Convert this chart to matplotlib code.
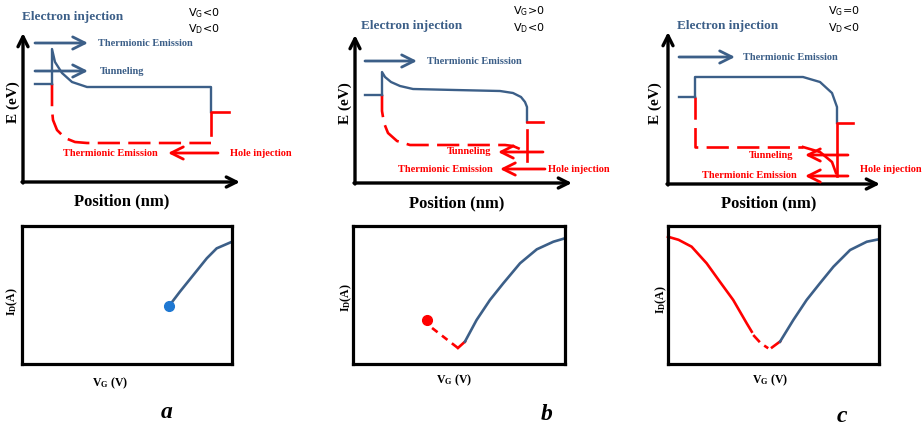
import numpy as np
import matplotlib.pyplot as plt

plt.rcParams['lines.scale_dashes'] = False
plt.rcParams['mathtext.default'] = 'regular'

W, H = 924, 428
BLUE = '#3c5f88'
RED = '#ff0000'
SERIF = 'Liberation Serif'

# band diagrams, local px units: position right of the E axis, energy above the position axis
# panel a : VG<0, VD<0
a_cb_x = [29, 29, 32, 39, 49, 64, 188, 188]
a_cb_y = [98, 133, 120, 109, 100, 95, 95, 70]
a_vb_x = [29, 29, 30, 34, 42, 52, 64, 188]
a_vb_y = [98, 72, 62, 52, 44, 40, 39, 39]
a_drain_x = [206, 188, 188]
a_drain_y = [70, 70, 47]
# panel b : VG>0, VD<0
b_cb_x = [27, 27, 30, 36, 45, 58, 100, 145, 158, 166, 170, 172, 172]
b_cb_y = [88, 111, 106, 101, 97, 94, 93, 92, 90, 86, 81, 76, 61]
b_vb_x = [27, 27, 29, 33, 42, 55, 150, 158, 165, 172]
b_vb_y = [88, 72, 60, 50, 42, 38, 38, 37, 34, 30]
b_drain_x = [188, 172]
b_drain_y = [61, 61]
b_drain2_x = [172, 172]
b_drain2_y = [53, 22]
# panel c : VG=0, VD<0
c_cb_x = [27, 27, 135, 152, 164, 169, 169]
c_cb_y = [87, 107, 107, 102, 91, 77, 61]
c_vb_x = [27, 27, 135]
c_vb_y = [87, 37, 37]
c_tail_x = [135, 152, 164, 168]
c_tail_y = [37, 32, 22, 11]
c_drain_x = [185, 169, 169]
c_drain_y = [61, 61, 8]

# transfer curves, VG and ID normalised to the box
a_blue_vg = [0.70, 0.752, 0.816, 0.880, 0.927, 1.0]
a_blue_id = [0.42, 0.524, 0.645, 0.766, 0.838, 0.886]
a_dot = (0.70, 0.42)

b_dot = (0.349, 0.319)
b_dash_vg = [0.373, 0.495]
b_dash_id = [0.261, 0.116]
b_red_vg = [0.495, 0.528]
b_red_id = [0.116, 0.162]
b_blue_vg = [0.528, 0.583, 0.646, 0.709, 0.788, 0.867, 0.945, 1.0]
b_blue_id = [0.162, 0.319, 0.464, 0.585, 0.730, 0.831, 0.886, 0.911]

c_red_vg = [0.0, 0.05, 0.112, 0.183, 0.246, 0.309, 0.373, 0.397]
c_red_id = [0.922, 0.90, 0.850, 0.730, 0.596, 0.464, 0.295, 0.234]
c_dash_vg = [0.404, 0.44, 0.475]
c_dash_id = [0.21, 0.15, 0.114]
c_red2_vg = [0.493, 0.531]
c_red2_id = [0.12, 0.163]
c_blue_vg = [0.531, 0.594, 0.657, 0.720, 0.784, 0.863, 0.942, 1.0]
c_blue_id = [0.162, 0.319, 0.464, 0.585, 0.705, 0.826, 0.886, 0.904]

fig = plt.figure(figsize=(W / 100, H / 100), dpi=100)


def band_ax(px0, px1, ox, oy):
    ax = fig.add_axes([px0 / W, 1 - 215 / H, (px1 - px0) / W, 215 / H])
    ax.set_xlim(px0 - ox, px1 - ox)
    ax.set_ylim(oy - 215, oy)
    ax.axis('off')
    return ax


def arrow(ax, tail, tip, color, lw=2, ms=22):
    ax.annotate('', xy=tip, xytext=tail,
                arrowprops=dict(arrowstyle='->', color=color, lw=lw,
                                mutation_scale=ms, shrinkA=0, shrinkB=0))


def txt(ax, x, y, s, color, size=7.5, ha='left', **kw):
    ax.text(x, y, s, color=color, fontsize=size, ha=ha, va='center',
            family=SERIF, weight='bold', **kw)


def frame(ax, xend, ytop):
    arrow(ax, (-1, 0), (xend, 0), 'black', lw=2.4, ms=18)
    arrow(ax, (0, -1), (0, ytop), 'black', lw=2.4, ms=18)


def vlabels(ax, x, y, g):
    ax.text(x, y[0], 'V$_G$' + g, fontsize=8, va='center', family='DejaVu Sans')
    ax.text(x, y[1], 'V$_D$<0', fontsize=8, va='center', family='DejaVu Sans')


# ---------------- panel a top
ax = band_ax(0, 305, 23, 182)
frame(ax, 217, 149)
txt(ax, -1, 165, 'Electron injection', BLUE, size=9.5)
vlabels(ax, 165, (169, 153), '<0')
arrow(ax, (12, 139), (65, 139), BLUE)
txt(ax, 75, 139, 'Thermionic Emission', BLUE)
arrow(ax, (12, 111), (65, 111), BLUE)
txt(ax, 77, 111, 'Tunneling', BLUE)
ax.plot([12, 29], [98, 98], color=BLUE, lw=1.7, clip_on=False)
ax.plot(a_vb_x, a_vb_y, color=RED, lw=1.9, dashes=(16, 6), clip_on=False)
ax.plot(a_cb_x, a_cb_y, color=BLUE, lw=1.7, clip_on=False)
ax.plot(a_drain_x, a_drain_y, color=RED, lw=1.9, clip_on=False)
arrow(ax, (195, 29), (145, 29), RED)
txt(ax, 87, 29, 'Thermionic Emission', RED, ha='center')
txt(ax, 207, 29, 'Hole injection', RED)
txt(ax, -10, 80, 'E (eV)', 'black', size=11, ha='center', rotation=90)
txt(ax, 99, -19, 'Position (nm)', 'black', size=12, ha='center')

# ---------------- panel b top
ax = band_ax(305, 640, 355, 183)
frame(ax, 217, 148)
txt(ax, 6, 157, 'Electron injection', BLUE, size=9.5)
vlabels(ax, 158, (172, 155), '>0')
arrow(ax, (10, 122), (62, 122), BLUE)
txt(ax, 72, 122, 'Thermionic Emission', BLUE)
ax.plot([10, 27], [88, 88], color=BLUE, lw=1.7, clip_on=False)
ax.plot(b_vb_x, b_vb_y, color=RED, lw=1.9, dashes=(16, 6), clip_on=False)
ax.plot(b_cb_x, b_cb_y, color=BLUE, lw=1.7, clip_on=False)
ax.plot(b_drain_x, b_drain_y, color=RED, lw=1.9, clip_on=False)
ax.plot(b_drain2_x, b_drain2_y, color=RED, lw=1.9, clip_on=False)
arrow(ax, (188, 31), (143, 31), RED)
txt(ax, 136, 31, 'Tunneling', RED, ha='right')
arrow(ax, (190, 14), (145, 14), RED)
txt(ax, 138, 14, 'Thermionic Emission', RED, ha='right')
txt(ax, 193, 14, 'Hole injection', RED)
txt(ax, -10, 80, 'E (eV)', 'black', size=11, ha='center', rotation=90)
txt(ax, 102, -20, 'Position (nm)', 'black', size=12, ha='center')

# ---------------- panel c top
ax = band_ax(640, 924, 668, 184)
frame(ax, 212, 152)
txt(ax, 9, 158, 'Electron injection', BLUE, size=9.5)
vlabels(ax, 160, (173, 156), '=0')
arrow(ax, (11, 127), (67, 127), BLUE)
txt(ax, 75, 127, 'Thermionic Emission', BLUE)
ax.plot([11, 27], [87, 87], color=BLUE, lw=1.7, clip_on=False)
ax.plot(c_vb_x, c_vb_y, color=RED, lw=1.9, dashes=(16, 6), clip_on=False)
ax.plot(c_tail_x, c_tail_y, color=RED, lw=1.9, clip_on=False)
ax.plot(c_cb_x, c_cb_y, color=BLUE, lw=1.7, clip_on=False)
ax.plot(c_drain_x, c_drain_y, color=RED, lw=1.9, clip_on=False)
arrow(ax, (180, 29), (137, 29), RED)
txt(ax, 125, 29, 'Tunneling', RED, ha='right')
arrow(ax, (180, 8), (137, 8), RED)
txt(ax, 129, 8, 'Thermionic Emission', RED, ha='right')
txt(ax, 192, 15, 'Hole injection', RED)
txt(ax, -13, 81, 'E (eV)', 'black', size=11, ha='center', rotation=90)
txt(ax, 101, -19, 'Position (nm)', 'black', size=12, ha='center')


# ---------------- transfer curves
def iv_ax(px0, px1, xl, yl):
    ax = fig.add_axes([px0 / W, 1 - 364 / H, (px1 - px0) / W, 138 / H])
    ax.set_xlim(0, 1)
    ax.set_ylim(0, 1)
    ax.set_xticks([])
    ax.set_yticks([])
    for s in ax.spines.values():
        s.set_linewidth(2.3)
    ax.text(xl[0], xl[1], 'V$_G$ (V)', transform=ax.transAxes, ha='center',
            va='center', fontsize=8.5, family=SERIF, weight='bold')
    ax.text(yl[0], yl[1], 'I$_D$(A)', transform=ax.transAxes, ha='center',
            va='center', fontsize=8.5, family=SERIF, weight='bold', rotation=90)
    return ax


ax = iv_ax(22, 232, (0.419, -0.138), (-0.045, 0.449))
ax.plot(a_blue_vg, a_blue_id, color=BLUE, lw=1.9, clip_on=False)
ax.plot(*a_dot, 'o', color='#1f78d2', ms=7)

ax = iv_ax(353, 565, (0.476, -0.116), (-0.032, 0.478))
ax.plot(b_dash_vg, b_dash_id, color=RED, lw=1.9, dashes=(5, 4))
ax.plot(b_red_vg, b_red_id, color=RED, lw=1.9)
ax.plot(b_blue_vg, b_blue_id, color=BLUE, lw=1.9, clip_on=False)
ax.plot(*b_dot, 'o', color=RED, ms=7)

ax = iv_ax(668, 879, (0.483, -0.116), (-0.032, 0.464))
ax.plot(c_red_vg, c_red_id, color=RED, lw=1.9, clip_on=False)
ax.plot(c_dash_vg, c_dash_id, color=RED, lw=1.9, dashes=(7, 4))
ax.plot(c_red2_vg, c_red2_id, color=RED, lw=1.9)
ax.plot(c_blue_vg, c_blue_id, color=BLUE, lw=1.9, clip_on=False)

for lab, x, y in [('a', 167, 412), ('b', 547, 415), ('c', 842, 417)]:
    fig.text(x / W, 1 - y / H, lab, ha='center', va='center', fontsize=17,
             family=SERIF, weight='bold', style='italic')

fig.savefig('out.png', dpi=100)
